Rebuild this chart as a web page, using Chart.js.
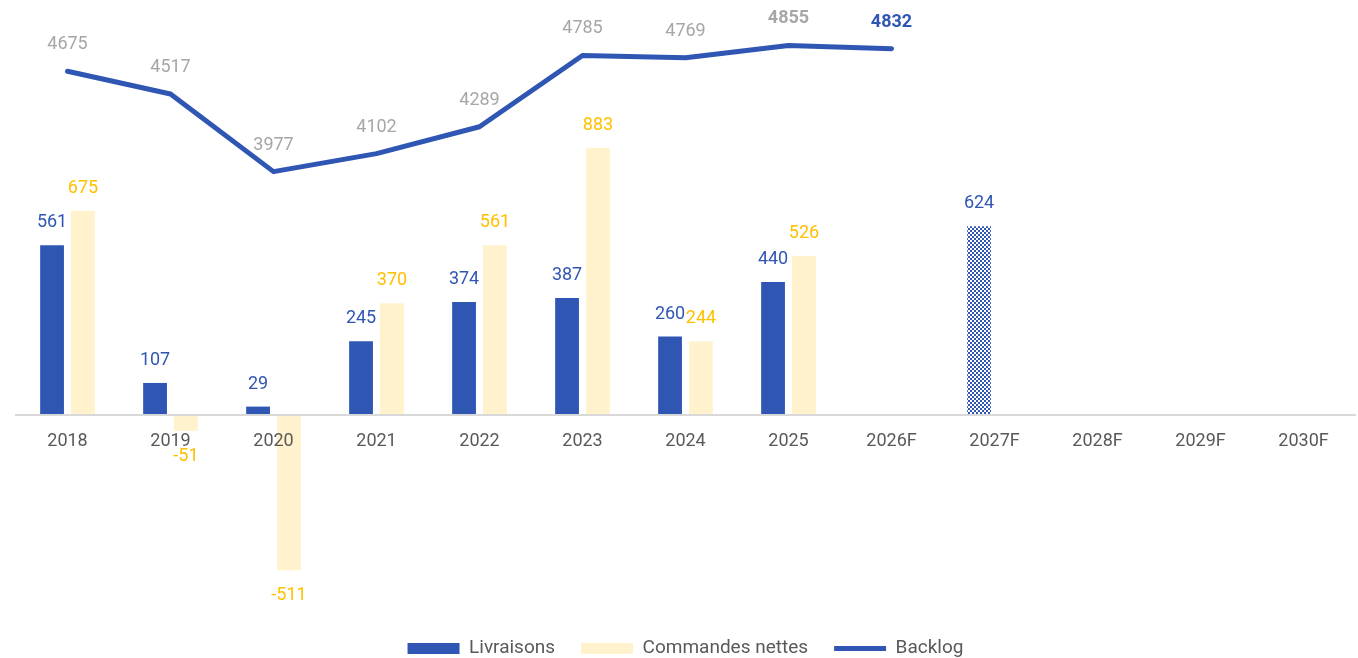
<!DOCTYPE html>
<html>
<head>
<meta charset="utf-8">
<script src="https://cdn.jsdelivr.net/npm/chart.js@4/dist/chart.umd.min.js"></script>
<style>
  body { margin: 0; background: #fff; }
  #wrap { width: 1358px; height: 658px; }
</style>
</head>
<body>
<div id="wrap"><canvas id="chart"></canvas></div>
<script>
const categories = ['2018', '2019', '2020', '2021', '2022', '2023', '2024', '2025', '2026F', '2027F', '2028F', '2029F', '2030F']
const livraisons = [561, 107, 29, 245, 374, 387, 260, 440, null, 624, null, null, null]
const commandes = [675, -51, -511, 370, 561, 883, 244, 526, null, null, null, null, null]
const backlog = [4675, 4517, 3977, 4102, 4289, 4785, 4769, 4855, 4832, null, null, null, null]

const BLUE = '#3056B4'
const YELLOW = '#FFF2CC'
const YELLOW_TXT = '#FFC000'
const GREY_TXT = '#A6A6A6'
const AXIS_TXT = '#595959'
const FONT = 'Roboto'

const canvas = document.getElementById('chart')
const ctx = canvas.getContext('2d')

function checker(color) {
  const c = document.createElement('canvas')
  c.width = 4
  c.height = 4
  const g = c.getContext('2d')
  g.fillStyle = '#fff'
  g.fillRect(0, 0, 4, 4)
  g.fillStyle = color
  g.fillRect(0, 0, 2, 2)
  g.fillRect(2, 2, 2, 2)
  return ctx.createPattern(c, 'repeat')
}
const hatch = checker(BLUE)

// forecast bars are drawn hatched
const isForecast = (i) => categories[i].endsWith('F')

const valueLabels = {
  id: 'valueLabels',
  afterDatasetsDraw(chart) {
    const c = chart.ctx
    c.save()
    c.textAlign = 'center'
    c.textBaseline = 'alphabetic'
    chart.data.datasets.forEach((ds, i) => {
      const meta = chart.getDatasetMeta(i)
      const vals = ds.data.filter((d) => d !== null)
      meta.data.forEach((el, j) => {
        const v = ds.data[j]
        if (v === null || v === undefined) return
        let y
        let bold = false
        if (meta.type === 'line') {
          y = el.y - 22
          const last = j === vals.length - 1
          c.fillStyle = last ? BLUE : GREY_TXT
          bold = last || v === Math.max(...vals)
        } else {
          y = v >= 0 ? el.y - 18 : el.y + 30
          c.fillStyle = ds.labelColor
        }
        c.font = (bold ? 'bold ' : '') + '18px ' + FONT
        c.fillText(String(v), el.x, y)
      })
    })
    c.restore()
  },
}

new Chart(canvas, {
  type: 'bar',
  data: {
    labels: categories,
    datasets: [
      {
        label: 'Livraisons',
        data: livraisons,
        backgroundColor: (c) => (isForecast(c.dataIndex) ? hatch : BLUE),
        labelColor: BLUE,
        yAxisID: 'y',
        order: 1,
      },
      {
        label: 'Commandes nettes',
        data: commandes,
        backgroundColor: YELLOW,
        labelColor: YELLOW_TXT,
        yAxisID: 'y',
        order: 1,
      },
      {
        type: 'line',
        label: 'Backlog',
        data: backlog,
        borderColor: BLUE,
        backgroundColor: BLUE,
        borderWidth: 5,
        borderCapStyle: 'round',
        borderJoinStyle: 'round',
        pointRadius: 0,
        tension: 0,
        yAxisID: 'y2',
        order: 0,
      },
    ],
  },
  options: {
    responsive: true,
    maintainAspectRatio: false,
    animation: false,
    categoryPercentage: 0.6,
    barPercentage: 0.77,
    layout: { padding: { top: 5, left: 16, right: 3, bottom: -10 } },
    scales: {
      x: {
        position: { y: 0 },
        grid: { display: false, drawTicks: false },
        border: { display: true, color: '#D9D9D9', width: 2, z: 1 },
        ticks: { color: AXIS_TXT, font: { family: FONT, size: 18 }, padding: 15, z: 1 },
      },
      y: { display: false, min: -652, max: 1354 },
      y2: { display: false, min: 907, max: 5136 },
    },
    plugins: {
      tooltip: { enabled: false },
      legend: {
        position: 'bottom',
        labels: {
          color: AXIS_TXT,
          font: { family: FONT, size: 19 },
          usePointStyle: true,
          pointStyleWidth: 52,
          boxHeight: 11,
          padding: 26,
          sort: (a, b) => a.datasetIndex - b.datasetIndex,
          generateLabels: (chart) =>
            Chart.defaults.plugins.legend.labels.generateLabels(chart).map((l) => {
              if (l.datasetIndex === 2) {
                return { ...l, pointStyle: 'line', lineWidth: 5, strokeStyle: BLUE, fillStyle: BLUE }
              }
              const col = l.datasetIndex === 0 ? BLUE : YELLOW
              return { ...l, pointStyle: 'rect', lineWidth: 0, strokeStyle: col, fillStyle: col }
            }),
        },
      },
    },
  },
  plugins: [valueLabels],
})
</script>
</body>
</html>
